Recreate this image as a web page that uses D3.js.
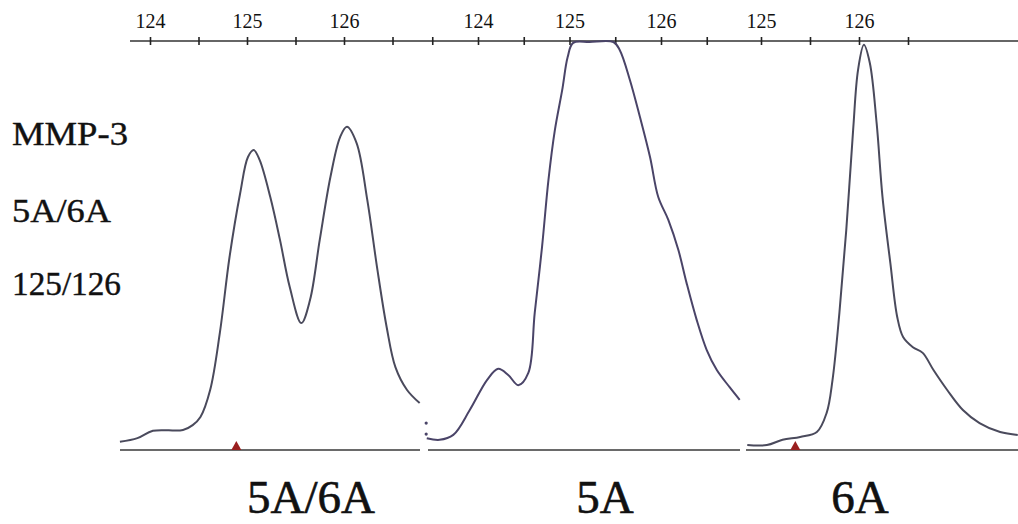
<!DOCTYPE html>
<html>
<head>
<meta charset="utf-8">
<script src="https://cdn.jsdelivr.net/npm/d3@7"></script>
<style>
  html, body { margin: 0; padding: 0; background: #fff; }
  svg { display: block; }
  text { font-family: "Liberation Serif", "DejaVu Serif", serif; fill: #111; }
</style>
</head>
<body>
<div id="chart"></div>
<script>
// MMP-3 5A/6A electropherogram — three traces side by side

// [size (bp), signal %]
const trace5A6A = [
  [123.69, 2.0], [123.87, 2.9], [124.03, 4.7], [124.34, 4.9], [124.44, 6.1],
  [124.52, 8.1], [124.62, 14.7], [124.72, 28.7], [124.82, 47.3], [124.93, 63.0],
  [125.01, 71.8], [125.07, 73.5], [125.13, 71.1], [125.24, 62.0], [125.34, 51.5],
  [125.44, 40.0], [125.56, 31.1], [125.65, 36.8], [125.75, 51.5], [125.86, 66.9],
  [125.96, 76.7], [126.03, 79.2], [126.13, 75.2], [126.24, 61.3], [126.34, 44.9],
  [126.44, 30.1], [126.53, 20.3], [126.65, 14.7], [126.78, 11.5]
];
const trace5A = [
  [123.44, 2.9], [123.58, 2.5], [123.73, 3.7], [123.91, 9.8], [124.10, 17.2],
  [124.22, 19.9], [124.33, 18.4], [124.44, 15.9], [124.55, 18.9], [124.62, 33.6],
  [124.70, 49.8], [124.77, 66.2], [124.84, 78.4], [124.92, 88.2], [124.98, 96.3],
  [125.04, 99.8], [125.22, 100], [125.48, 100], [125.55, 98.0], [125.66, 90.7],
  [125.77, 81.6], [125.88, 71.8], [125.97, 62.0], [126.08, 56.4], [126.19, 49.0],
  [126.28, 40.9], [126.39, 31.9], [126.50, 24.5], [126.61, 19.6], [126.75, 15.4],
  [126.86, 12.3]
];
const trace6A = [
  [124.86, 1.2], [125.06, 1.2], [125.22, 2.5], [125.40, 3.2], [125.57, 4.4],
  [125.67, 9.1], [125.73, 17.2], [125.80, 33.6], [125.87, 53.9], [125.94, 78.4],
  [125.99, 93.1], [126.05, 99.3], [126.11, 94.9], [126.18, 80.1], [126.24, 62.0],
  [126.32, 45.8], [126.39, 32.6], [126.45, 27.7], [126.55, 25.2], [126.65, 23.8],
  [126.76, 19.6], [126.90, 14.7], [127.06, 9.8], [127.23, 6.6], [127.44, 4.4],
  [127.62, 3.7]
];
const strayDots5A = [[123.39, 6.6], [123.39, 3.9]];

const ticks5A6A = [124, 124.5, 125, 125.5, 126, 126.5];
const ticks5A   = [123.5, 124, 124.5, 125, 125.5, 126, 126.5];
const ticks6A   = [125, 125.5, 126, 126.5];

const markers5A6A = [124.89];
const markers6A   = [125.35];

const genotypes  = ['5A/6A', '5A', '6A'];
const sideLabels = ['MMP-3', '5A/6A', '125/126'];

const W = 1018, H = 524;
const baseY = 450, topY = 42;

const svg = d3.select('#chart').append('svg').attr('width', W).attr('height', H);

const y = d3.scaleLinear().domain([0, 100]).range([baseY, topY]);

const panels = [
  { trace: trace5A6A, ticks: ticks5A6A, markers: markers5A6A, dom: [124, 126], rng: [150, 344], span: [120, 420], color: '#4a4a5c', label: genotypes[0], labelX: 311 },
  { trace: trace5A,   ticks: ticks5A,   markers: [],          dom: [124, 126], rng: [478, 661], span: [428, 740], color: '#4a4468', label: genotypes[1], labelX: 605 },
  { trace: trace6A,   ticks: ticks6A,   markers: markers6A,   dom: [125, 126], rng: [761, 859], span: [746, 1018], color: '#4a4a5c', label: genotypes[2], labelX: 860 }
];

// top size axis line
svg.append('line')
  .attr('x1', 130).attr('x2', W).attr('y1', 41).attr('y2', 41)
  .attr('stroke', '#333').attr('stroke-width', 1.6);

const line = d3.line().curve(d3.curveCatmullRom.alpha(0.5));

panels.forEach(p => {
  const x = d3.scaleLinear().domain(p.dom).range(p.rng);

  const ax = svg.append('g')
    .attr('transform', `translate(0,45)`)
    .call(d3.axisTop(x).tickValues(p.ticks).tickSize(8).tickPadding(9)
      .tickFormat(d => Number.isInteger(d) ? d : ''));
  ax.select('.domain').remove();
  ax.selectAll('.tick line').attr('stroke', '#222').attr('stroke-width', 1.6);
  ax.selectAll('.tick text')
    .attr('font-family', '"Liberation Serif", serif')
    .attr('font-size', 20).attr('fill', '#111');

  // baseline
  svg.append('line')
    .attr('x1', p.span[0]).attr('x2', p.span[1])
    .attr('y1', baseY).attr('y2', baseY)
    .attr('stroke', '#6a6a6a').attr('stroke-width', 2);

  // trace
  line.x(d => x(d[0])).y(d => y(d[1]));
  svg.append('path')
    .datum(p.trace)
    .attr('d', line)
    .attr('fill', 'none')
    .attr('stroke', p.color)
    .attr('stroke-width', 2);

  // allele call markers
  svg.selectAll(null).data(p.markers).join('path')
    .attr('d', d => `M${x(d) - 5},${baseY} L${x(d)},${baseY - 9} L${x(d) + 5},${baseY} Z`)
    .attr('fill', '#9a1f1f');

  svg.append('text')
    .attr('x', p.labelX).attr('y', 513)
    .attr('text-anchor', 'middle')
    .attr('font-size', 47)
    .attr('stroke', '#111').attr('stroke-width', 0.6)
    .text(p.label);

  if (p.trace === trace5A) {
    svg.selectAll(null).data(strayDots5A).join('circle')
      .attr('cx', d => x(d[0]) + 4).attr('cy', d => y(d[1]))
      .attr('r', 1.6).attr('fill', '#4a4468');
  }
});

// side labels
const sideWidths = [116, 99, 109];
svg.selectAll('.side').data(sideLabels).join('text')
  .attr('class', 'side')
  .attr('x', 12)
  .attr('y', (d, i) => [145, 222, 295][i])
  .attr('font-size', 33)
  .attr('textLength', (d, i) => sideWidths[i])
  .attr('lengthAdjust', 'spacingAndGlyphs')
  .attr('stroke', '#111').attr('stroke-width', 0.4)
  .text(d => d);
</script>
</body>
</html>
